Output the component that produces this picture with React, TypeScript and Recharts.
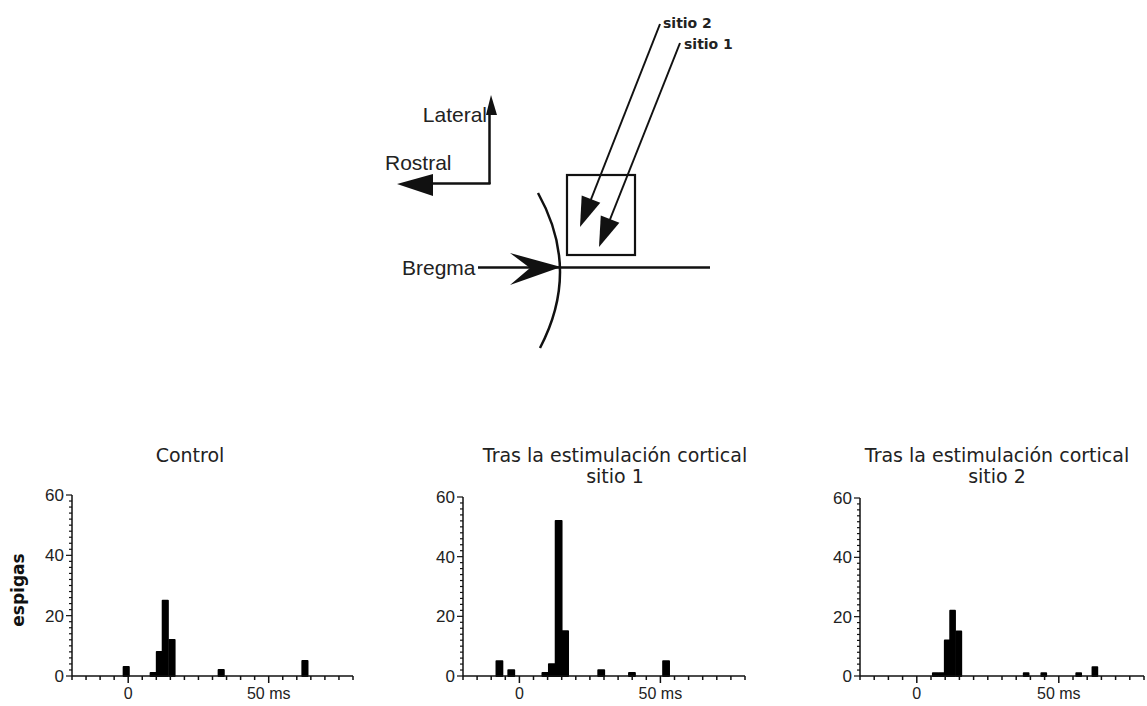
import { BarChart, Bar, XAxis, YAxis } from "recharts";

// bin centres (ms) and spike counts
const controlTimes = [-0.6, 9, 11.2, 13.3, 15.7, 33.2, 63];
const controlCounts = [3, 1, 8, 25, 12, 2, 5];

const sitio1Times = [-7, -2.8, 9.3, 11.6, 14, 16.3, 29.1, 40, 52.1];
const sitio1Counts = [5, 2, 1, 4, 52, 15, 2, 1, 5];

const sitio2Times = [6.6, 8.7, 10.8, 12.7, 14.9, 38.6, 44.8, 57.1, 62.8];
const sitio2Counts = [1, 1, 12, 22, 15, 1, 1, 1, 3];

const xTicks = [-20, -15, -10, -5, 0, 5, 10, 15, 20, 25, 30, 35, 40, 45, 50, 55, 60, 65, 70, 75, 80];
const xMajor = [0, 50];
const xMajorLabels = ["0", "50 ms"];

const yTicks = [0, 2, 4, 6, 8, 10, 12, 14, 16, 18, 20, 22, 24, 26, 28, 30, 32, 34, 36, 38, 40, 42, 44, 46, 48, 50, 52, 54, 56, 58, 60];
const yMajor = [0, 20, 40, 60];

const toRows = (times: number[], counts: number[]) =>
  times.map((t, i) => ({ t, n: counts[i] }));

const INK = "#111";
const tickFont = "'Liberation Sans', Arial, sans-serif";
const titleFont = "'DejaVu Sans', sans-serif";

function XTick(props: any) {
  const { x, y, payload } = props;
  const idx = xMajor.indexOf(payload.value);
  const major = idx >= 0;
  return (
    <g>
      <line x1={x} x2={x} y1={y} y2={y + (major ? 7 : 4)} stroke={INK} strokeWidth={1.5} />
      {major && (
        <text x={x} y={y + 23} textAnchor="middle" fontFamily={tickFont} fontSize={16} fill="#222">
          {xMajorLabels[idx]}
        </text>
      )}
    </g>
  );
}

function YTick(props: any) {
  const { x, y, payload } = props;
  const major = yMajor.includes(payload.value);
  return (
    <g>
      <line x1={x} x2={x - (major ? 6 : 3)} y1={y} y2={y} stroke={INK} strokeWidth={1.2} />
      {major && (
        <text x={x - 8} y={y + 6} textAnchor="end" fontFamily={tickFont} fontSize={17} fill="#222">
          {payload.value}
        </text>
      )}
    </g>
  );
}

type PanelProps = {
  rows: { t: number; n: number }[];
  left: number;
  width: number;
  margin: { top: number; right: number; bottom: number; left: number };
};

function Histogram({ rows, left, width, margin }: PanelProps) {
  return (
    <div style={{ position: "absolute", left, top: 430 }}>
      <BarChart width={width} height={276} data={rows} margin={margin}>
        <XAxis
          type="number"
          dataKey="t"
          domain={[-20, 80]}
          allowDataOverflow
          ticks={xTicks}
          interval={0}
          tickSize={0}
          tickMargin={0}
          tickLine={false}
          tick={<XTick />}
          height={30}
          axisLine={{ stroke: INK, strokeWidth: 1.5 }}
        />
        <YAxis
          type="number"
          domain={[0, 60]}
          ticks={yTicks}
          interval={0}
          tickSize={0}
          tickMargin={0}
          tickLine={false}
          tick={<YTick />}
          width={40}
          axisLine={{ stroke: INK, strokeWidth: 1.5 }}
        />
        <Bar
          dataKey="n"
          barSize={6}
          fill="#000"
          stroke="#000"
          strokeWidth={1.8}
          strokeLinejoin="round"
          isAnimationActive={false}
        />
      </BarChart>
    </div>
  );
}

// small arrowhead helper for the schematic
function head(x0: number, y0: number, tx: number, ty: number, len: number, half: number) {
  const dx = tx - x0;
  const dy = ty - y0;
  const d = Math.hypot(dx, dy);
  const ux = dx / d;
  const uy = dy / d;
  const bx = tx - ux * len;
  const by = ty - uy * len;
  return `${tx},${ty} ${bx - uy * half},${by + ux * half} ${bx + uy * half},${by - ux * half}`;
}

function Schematic() {
  return (
    <svg width={1147} height={380} style={{ position: "absolute", left: 0, top: 0 }}>
      {/* orientation axes */}
      <line x1={489.5} y1={184} x2={489.5} y2={110} stroke={INK} strokeWidth={2.5} />
      <polygon points="491,95 486,115 497,115" fill={INK} />
      <line x1={490.5} y1={183.5} x2={430} y2={183.5} stroke={INK} strokeWidth={2.5} />
      <polygon points="397,184 433,174 433,196" fill={INK} />
      <text x={487} y={122} textAnchor="end" fontFamily={tickFont} fontSize={21} fill="#222">Lateral</text>
      <text x={385} y={170} fontFamily={tickFont} fontSize={21} fill="#222">Rostral</text>

      {/* bregma */}
      <line x1={478} y1={267.5} x2={710} y2={267.5} stroke={INK} strokeWidth={2.5} />
      <polygon points="561,267 510,253 530,268 510,285" fill={INK} />
      <path d="M538 193 Q581 270 540 348" fill="none" stroke={INK} strokeWidth={2.5} />
      <text x={402} y={275} fontFamily={tickFont} fontSize={21} fill="#222">Bregma</text>

      {/* stimulation sites */}
      <rect x={567} y={175} width={68} height={80} fill="none" stroke={INK} strokeWidth={2.2} />
      <line x1={660} y1={24} x2={588} y2={207} stroke={INK} strokeWidth={2} />
      <polygon points={head(660, 24, 580, 227, 30, 10)} fill={INK} />
      <line x1={680} y1={43} x2={607} y2={227} stroke={INK} strokeWidth={2} />
      <polygon points={head(680, 43, 599, 247, 30, 10)} fill={INK} />
      <text x={663} y={28} fontFamily={titleFont} fontWeight="bold" fontSize={14} fill="#222">sitio 2</text>
      <text x={684} y={49} fontFamily={titleFont} fontWeight="bold" fontSize={14} fill="#222">sitio 1</text>
    </svg>
  );
}

const titleStyle = (cx: number): React.CSSProperties => ({
  position: "absolute",
  left: cx - 200,
  width: 400,
  top: 445,
  textAlign: "center",
  fontFamily: titleFont,
  fontSize: 19,
  lineHeight: "21px",
  color: "#222",
  whiteSpace: "nowrap",
});

export default function App() {
  return (
    <div
      style={{
        position: "absolute",
        left: 0,
        top: 0,
        width: 1147,
        height: 706,
        overflow: "hidden",
        background: "#fff",
      }}
    >
      <Schematic />

      <div style={titleStyle(190)}>Control</div>
      <div style={titleStyle(615)}>
        <div>Tras la estimulación cortical</div>
        <div>sitio 1</div>
      </div>
      <div style={titleStyle(997)}>
        <div>Tras la estimulación cortical</div>
        <div>sitio 2</div>
      </div>

      <div
        style={{
          position: "absolute",
          left: 18 - 50,
          top: 590 - 11,
          width: 100,
          textAlign: "center",
          transform: "rotate(-90deg)",
          fontFamily: titleFont,
          fontWeight: "bold",
          fontSize: 17,
          lineHeight: "22px",
          color: "#111",
        }}
      >
        espigas
      </div>

      <Histogram
        rows={toRows(controlTimes, controlCounts)}
        left={0}
        width={380}
        margin={{ top: 65, right: 27, bottom: 0, left: 32 }}
      />
      <Histogram
        rows={toRows(sitio1Times, sitio1Counts)}
        left={390}
        width={380}
        margin={{ top: 67, right: 25, bottom: 0, left: 33 }}
      />
      <Histogram
        rows={toRows(sitio2Times, sitio2Counts)}
        left={790}
        width={357}
        margin={{ top: 68, right: 3, bottom: 0, left: 30 }}
      />
    </div>
  );
}
